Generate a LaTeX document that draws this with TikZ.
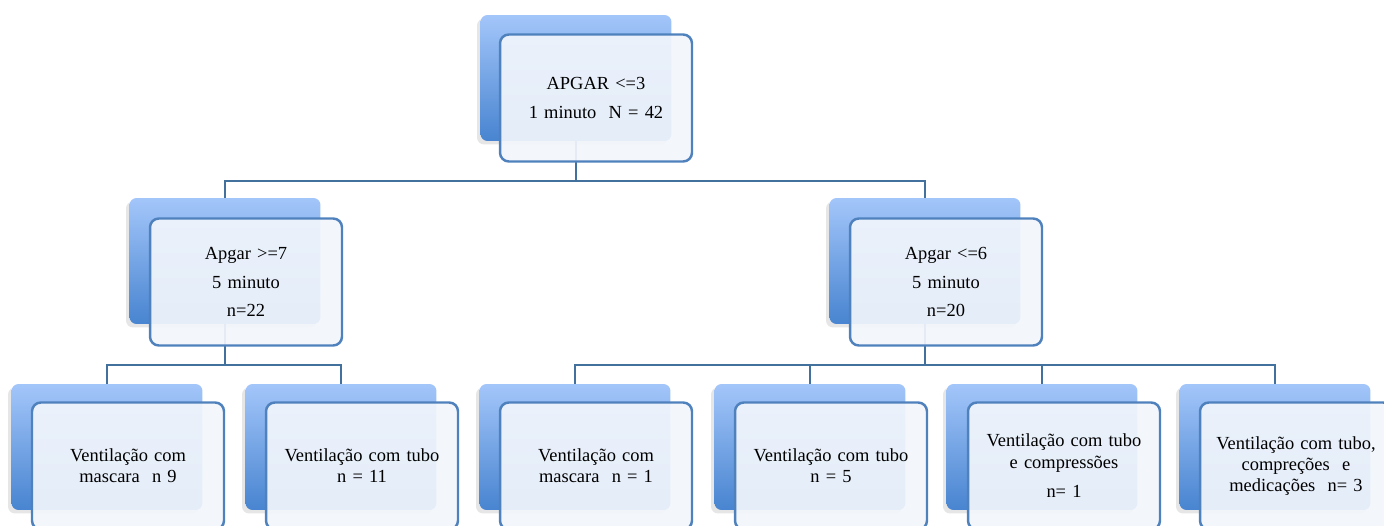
\documentclass[tikz,border=0pt]{standalone}
\usepackage{fontspec}
\setmainfont{Liberation Serif}
\usetikzlibrary{shadows}
\pgfdeclarelayer{background}
\pgfsetlayers{background,main}
\definecolor{linkblue}{RGB}{65,113,156}
\definecolor{edgeblue}{RGB}{79,129,189}
\definecolor{toptint}{RGB}{163,198,250}
\definecolor{bottint}{RGB}{72,132,208}
\definecolor{paper}{RGB}{242,246,252}
\begin{document}
\begin{tikzpicture}[x=0.02cm,y=-0.02cm,
	backbox/.style={rounded corners=4pt,minimum width=3.82cm,minimum height=2.52cm,
	  top color=toptint,bottom color=bottint,
	  drop shadow={shadow xshift=-2pt,shadow yshift=-2pt,opacity=0.2}},
	frontbox/.style={draw=edgeblue,line width=1.4pt,rounded corners=5pt,fill=paper,fill opacity=0.92,text opacity=1,
	  minimum width=3.84cm,minimum height=2.54cm,text width=3.5cm,align=center,
	  font=\fontsize{10.5}{12}\selectfont},
	link/.style={draw=linkblue,line width=1.4pt}]
	  \useasboundingbox (0,0) rectangle (1384,526);
	  \clip (0,0) rectangle (1384,526);
	  % level 1
	  \node[backbox] (apgb) at (576,78) {};
	  \node[frontbox] (apgf) at (596,98) {APGAR <=3\\[4pt] 1 minuto\ \ N = 42};
	  % level 2
	  \node[backbox] (hib) at (225,261) {};
	  \node[frontbox] (hif) at (246,282) {Apgar >=7\\[4pt] 5 minuto\\[4pt] n=22};
	  \node[backbox] (lob) at (925,261) {};
	  \node[frontbox] (lof) at (946,282) {Apgar <=6\\[4pt] 5 minuto\\[4pt] n=20};
	  % level 3
	  \node[backbox] (v1b) at (107,447) {};
	  \node[frontbox] (v1f) at (128,466) {Ventilação com\\ mascara\ \ n 9};
	  \node[backbox] (v2b) at (341,447) {};
	  \node[frontbox] (v2f) at (362,466) {Ventilação com tubo\\ n = 11};
	  \node[backbox] (v3b) at (575,447) {};
	  \node[frontbox] (v3f) at (596,466) {Ventilação com\\ mascara\ \ n = 1};
	  \node[backbox] (v4b) at (810,447) {};
	  \node[frontbox] (v4f) at (831,466) {Ventilação com tubo\\ n = 5};
	  \node[backbox] (v5b) at (1042,447) {};
	  \node[frontbox] (v5f) at (1064,466) {Ventilação com tubo\\ e compressões\\[5pt] n= 1};
	  \node[backbox] (v6b) at (1275,447) {};
	  \node[frontbox] (v6f) at (1296,466) {Ventilação com tubo,\\ compreções\ \ e\\ medicações\ \ n= 3};
	  % connectors
	  \begin{pgfonlayer}{background}
	  \draw[link] (apgb.center) -- (apgb.center |- 0,181);
	  \draw[link] (hib.center) |- (apgb.center |- 0,181) -| (lob.center);
	  \draw[link] (hib.center) -- (hib.center |- 0,365);
	  \draw[link] (v1b.center) |- (hib.center |- 0,365) -| (v2b.center);
	  \draw[link] (lob.center) -- (lob.center |- 0,365);
	  \draw[link] (v3b.center) |- (lob.center |- 0,365) -| (v6b.center);
	  \draw[link] (v4b.center) -- (v4b.center |- 0,365);
	  \draw[link] (v5b.center) -- (v5b.center |- 0,365);
	  \end{pgfonlayer}
	\end{tikzpicture}
\end{document}
